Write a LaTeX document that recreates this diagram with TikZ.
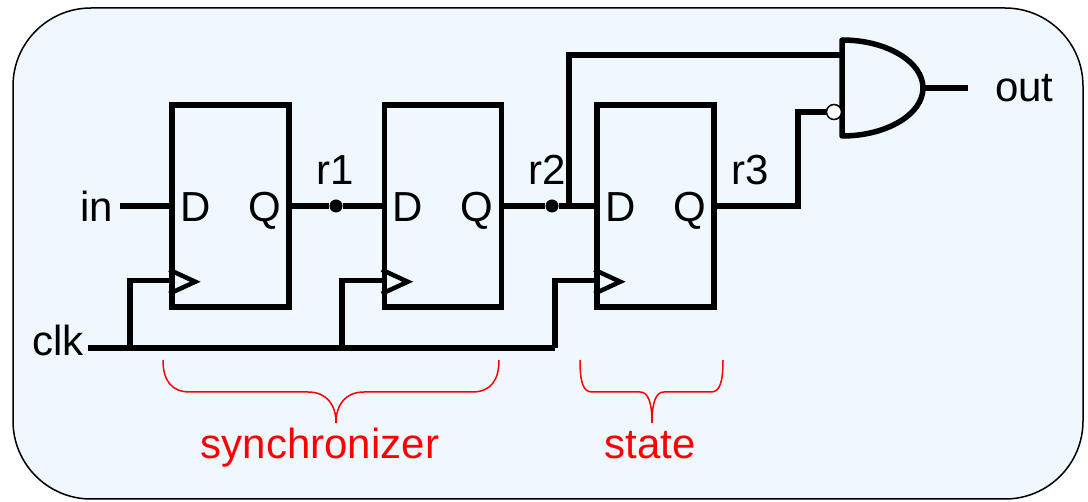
\documentclass[tikz,border=0pt]{standalone}
\usepackage{fontspec}
\setmainfont{Liberation Sans}
\usetikzlibrary{calc,positioning}

\definecolor{panelblue}{RGB}{240,248,255}

\tikzset{
	ffbox/.style={draw=black, line width=5.5pt, minimum width=117pt, minimum height=202pt, inner sep=0pt},
	wire/.style={line width=5.5pt, black},
	clkmark/.style={line width=4.5pt, black},
	lbl/.style={font=\fontsize{42}{50}\selectfont, inner sep=0pt},
	grplbl/.style={lbl, red},
	grpbrace/.style={red, line width=1.5pt},
	jdot/.style={circle, fill=black, minimum size=13pt, inner sep=0pt},
	bubble/.style={circle, draw=black, fill=white, line width=1.5pt, minimum size=15pt, inner sep=0pt},
}

\begin{document}
\begin{tikzpicture}[x=1pt, y=-1pt]
	\useasboundingbox (0,0) rectangle (1088,502);

	% Panel
	\filldraw[fill=panelblue, draw=black, line width=1.5pt, rounded corners=78pt]
	(13,8) rectangle (1083,499);

	% Flip-flops
	\foreach \n/\cx in {ff1/230.5, ff2/443, ff3/655.5} {
		\node[ffbox] (\n) at (\cx,206) {};
		\draw[clkmark] ($(\n.south west)+(0,-40)$) -- ++(26,12) -- ++(-26,12);
		\node[lbl, anchor=base] at ($(\n.west)+(26,16)$) {D};
		\node[lbl, anchor=base] at ($(\n.east)+(-27,16)$) {Q};
		\coordinate (\n-ck) at ($(\n.south west)+(0,-29)$);
	}

	%% Input
	\coordinate (inpin) at (120,206);
	\node[lbl, anchor=east] (inlbl) at (113,206) {in};
	\draw[wire] (inpin) -- (ff1.west);

	%% Clock
	\coordinate (clkpin) at (88,348);
	\coordinate (clkend) at (555,348);
	\node[lbl, anchor=base east] (clklbl) at (84,356) {clk};
	\draw[wire] (clkpin) -- (clkend);
	\foreach \n/\tx in {ff1/130, ff2/342, ff3/555}
		\draw[wire] (\tx,348) |- (\n-ck);

	%% Pipeline
	\node[jdot] (r1dot) at (336,206) {};
	\draw[wire] (ff1.east) -- (r1dot) -- (ff2.west);
	\node[lbl, anchor=base] at (335,185) {r1};
	%
	\node[jdot] (r2dot) at (552,206) {};
	\draw[wire] (ff2.east) -- (r2dot) -- (ff3.west);
	\node[lbl, anchor=base] at (547,185) {r2};
	%
	\node[lbl, anchor=base] at (750,185) {r3};

	%% Gate
	\coordinate (andA) at (842,55);
	\coordinate (andout) at (923,88);
	\coordinate (outpin) at (968,88);
	\draw[line width=5.5pt, line join=round] (842,40)
	.. controls (886.7,40) and (923,61.8) .. (andout)
	.. controls (923,114.2) and (886.7,136) .. (842,136) -- cycle;
	\node[bubble] (bub) at (834,112) {};
	\coordinate (tap) at (569,206);
	\draw[wire] (tap) |- (andA);
	\draw[wire] (ff3.east) -- ++(81,0) |- (bub.west);
	\draw[wire] (andout) -- (outpin);
	\node[lbl, anchor=west] (outlbl) at (995,88) {out};

	%% Groups
	\draw[grpbrace] (163,360) .. controls (163,380) and (171,392) .. (190,392)
	-- (308,392) .. controls (326,392) and (336,404) .. (336,423)
	.. controls (336,404) and (346,392) .. (364,392)
	-- (472,392) .. controls (491,392) and (499,380) .. (499,360);
	\node[grplbl, anchor=base] at (320,459) {synchronizer};
	%
	\draw[grpbrace] (580,360) .. controls (580,382) and (583,392) .. (592,392)
	-- (640,392) .. controls (648,392) and (652,402) .. (652,423)
	.. controls (652,402) and (656,392) .. (664,392)
	-- (711,392) .. controls (720,392) and (723,382) .. (723,360);
	\node[grplbl, anchor=base] at (650,459) {state};

\end{tikzpicture}
\end{document}
